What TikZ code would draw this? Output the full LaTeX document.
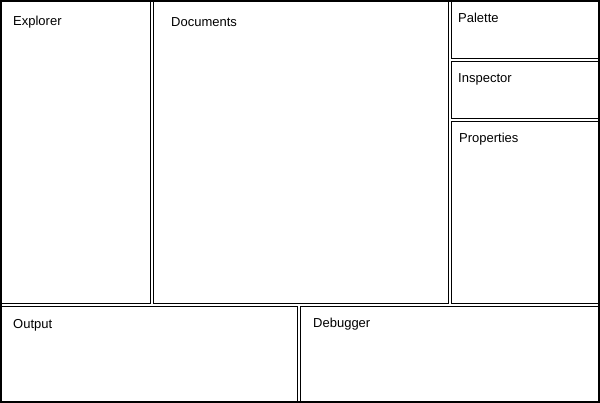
\documentclass[tikz,border=0pt]{standalone}
\usepackage{fontspec}
\setmainfont{Liberation Sans}
\newcommand{\panefont}{\fontsize{13}{15}\selectfont}
\begin{document}
\begin{tikzpicture}[x=1pt,y=-1pt]

    \tikzset{
      pane/.style={
        draw,
        line width=1pt,
      },
      title/.style={
        anchor=base west,
        inner sep=0pt,
        font=\panefont,
      },
    }
    \useasboundingbox (0,0) rectangle (600,403);

	\draw[pane] (0.5,0.5) rectangle (150.5,303.5);
	\draw[pane] (153.5,0.5) rectangle (448.5,303.5);
	\draw[pane] (451.5,0.5) rectangle (599.5,58.5);
	\draw[pane] (451.5,61.5) rectangle (599.5,118.5);
	\draw[pane] (451.5,121.5) rectangle (599.5,303.5);
	\draw[pane] (0.5,306.5) rectangle (297.5,402.5);
	\draw[pane] (300.5,306.5) rectangle (599.5,402.5);
	\draw[line width=2pt] (1,1) rectangle (599,402);

	\node[title] (explorer) at (13,25.5) {Explorer};
	\node[title] (documents) at (171,26.5) {Documents};
	\node[title] (palette) at (458,22.5) {Palette};
	\node[title] (inspector) at (458,82.5) {Inspector};
	\node[title] (properties) at (459,142.5) {Properties};
	\node[title] (output) at (13,328.5) {Output};
	\node[title] (debugger) at (313,327.5) {Debugger};

\end{tikzpicture}
\end{document}
